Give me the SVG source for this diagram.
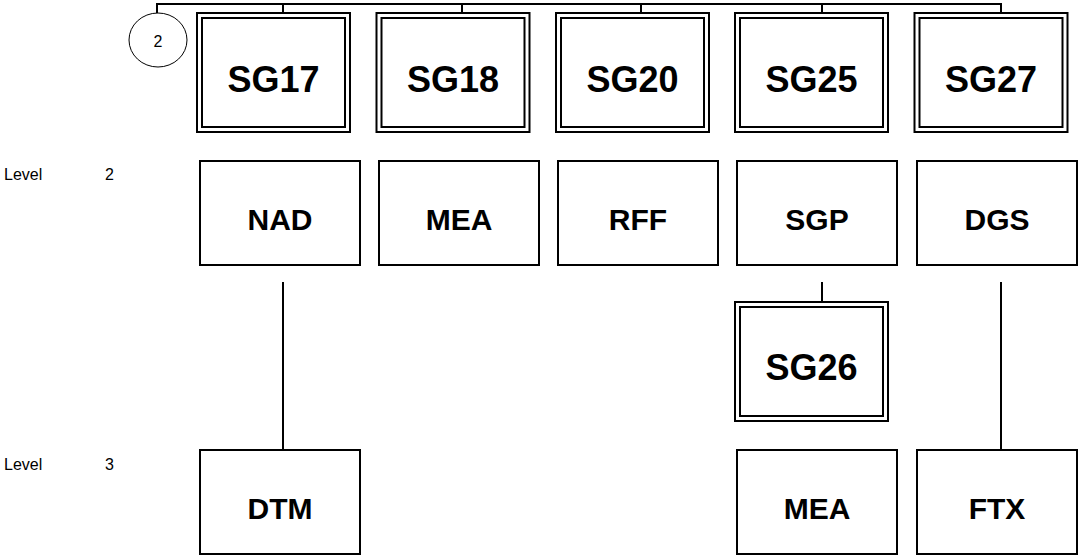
<svg xmlns="http://www.w3.org/2000/svg" width="1078" height="555" viewBox="0 0 1078 555">
<style>
.box{fill:#fff;stroke:#000;stroke-width:2}
.dbl{fill:none;stroke:#000;stroke-width:2}
.ln{fill:none;stroke:#000;stroke-width:2}
.t1{font-family:"Liberation Sans",Arial,sans-serif;font-weight:bold;font-size:36px;text-anchor:middle;fill:#000}
.t2{font-family:"Liberation Sans",Arial,sans-serif;font-weight:bold;font-size:30px;text-anchor:middle;fill:#000}
.lv{font-family:"Liberation Sans",Arial,sans-serif;font-size:16px;fill:#000}
</style>
<rect width="1078" height="555" fill="#fff"/>
<g id="connectors">
<path class="ln" d="M157,13 V4 H1001 V13 M283,4 V13 M462,4 V13 M641,4 V13 M822,4 V13"/>
<path class="ln" d="M283,282 V449"/>
<path class="ln" d="M822,282 V302"/>
<path class="ln" d="M1001,282 V450"/>
</g>
<g id="labels">
<text class="lv" x="4" y="180">Level</text>
<text class="lv" x="105" y="180">2</text>
<text class="lv" x="4" y="470">Level</text>
<text class="lv" x="105" y="470">3</text>
</g>
<g id="circle2">
<ellipse cx="158" cy="40" rx="29" ry="27" fill="#fff" stroke="#000" stroke-width="1"/>
<text class="lv" x="158" y="47" text-anchor="middle">2</text>
</g>
<g id="SG17"><rect class="dbl" x="197" y="13" width="153" height="119"/><rect class="dbl" x="202" y="18" width="143" height="109"/><text class="t1" x="273.5" y="92">SG17</text></g>
<g id="SG18"><rect class="dbl" x="376.5" y="13" width="153" height="119"/><rect class="dbl" x="381.5" y="18" width="143" height="109"/><text class="t1" x="453" y="92">SG18</text></g>
<g id="SG20"><rect class="dbl" x="556" y="13" width="153" height="119"/><rect class="dbl" x="561" y="18" width="143" height="109"/><text class="t1" x="632.5" y="92">SG20</text></g>
<g id="SG25"><rect class="dbl" x="735" y="13" width="153" height="119"/><rect class="dbl" x="740" y="18" width="143" height="109"/><text class="t1" x="811.5" y="92">SG25</text></g>
<g id="SG27"><rect class="dbl" x="914.5" y="13" width="153" height="119"/><rect class="dbl" x="919.5" y="18" width="143" height="109"/><text class="t1" x="991" y="92">SG27</text></g>
<g id="NAD"><rect class="box" x="200" y="161" width="160" height="104"/><text class="t2" x="280" y="230">NAD</text></g>
<g id="MEA1"><rect class="box" x="379" y="161" width="160" height="104"/><text class="t2" x="459" y="230">MEA</text></g>
<g id="RFF"><rect class="box" x="558" y="161" width="160" height="104"/><text class="t2" x="638" y="230">RFF</text></g>
<g id="SGP"><rect class="box" x="737" y="161" width="160" height="104"/><text class="t2" x="817" y="230">SGP</text></g>
<g id="DGS"><rect class="box" x="917" y="161" width="160" height="104"/><text class="t2" x="997" y="230">DGS</text></g>
<g id="SG26"><rect class="dbl" x="735" y="302" width="153" height="119"/><rect class="dbl" x="740" y="307" width="143" height="109"/><text class="t1" x="811.5" y="380">SG26</text></g>
<g id="DTM"><rect class="box" x="200" y="450" width="160" height="104"/><text class="t2" x="280" y="519">DTM</text></g>
<g id="MEA2"><rect class="box" x="737" y="450" width="160" height="104"/><text class="t2" x="817" y="519">MEA</text></g>
<g id="FTX"><rect class="box" x="917" y="450" width="160" height="104"/><text class="t2" x="997" y="519">FTX</text></g>
</svg>
